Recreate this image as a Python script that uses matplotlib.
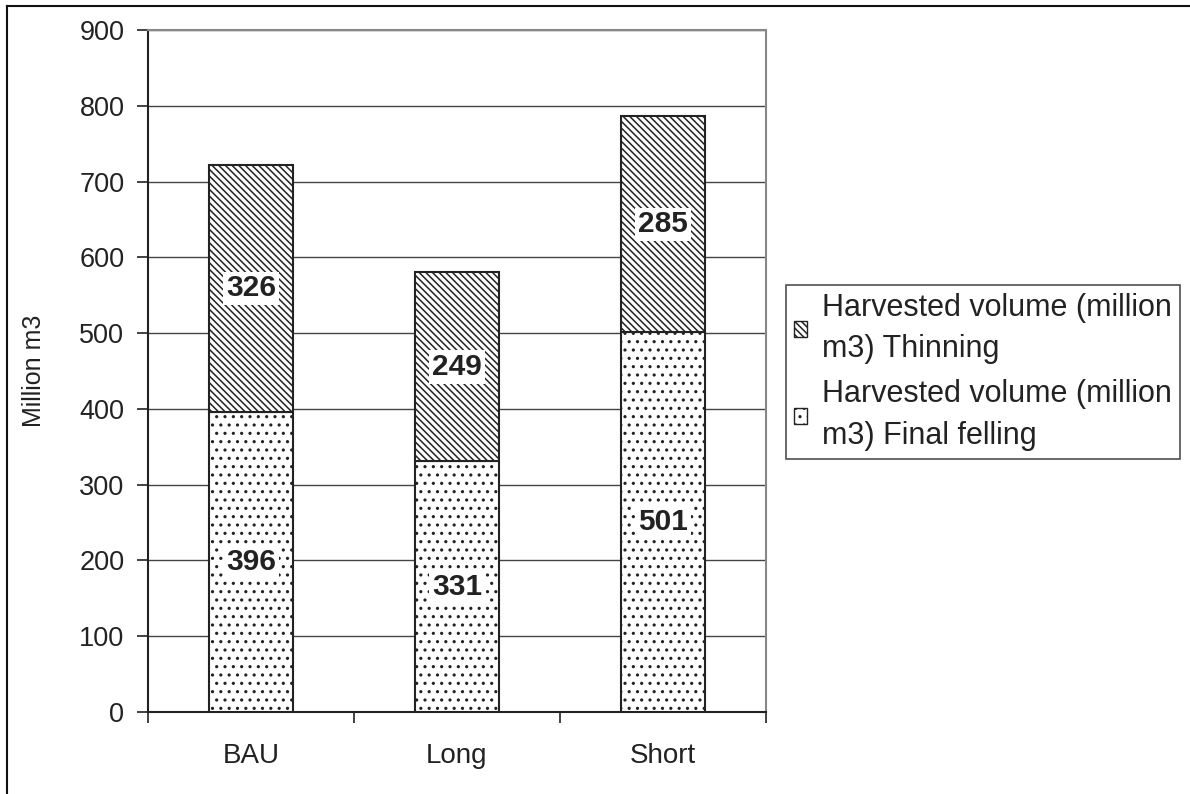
import matplotlib.pyplot as plt
from matplotlib.lines import Line2D
import numpy as np

# Cenários e volumes colhidos (milhões de m3)
cenarios = ["BAU", "Long", "Short"]
corte_final = [396, 331, 501]
desbaste = [326, 249, 285]

rotulo_desbaste = "Harvested volume (million\nm3) Thinning"
rotulo_corte = "Harvested volume (million\nm3) Final felling"

plt.rcParams["font.family"] = ["Liberation Sans", "DejaVu Sans"]
plt.rcParams["hatch.linewidth"] = 1.1
plt.rcParams["hatch.color"] = "#222222"

fig = plt.figure(figsize=(11.9, 7.94), dpi=100)
ax = fig.add_axes([148 / 1190, 1 - 712 / 794, 618 / 1190, 682 / 794])

x = np.arange(len(cenarios))
largura = 0.41

barras_corte = ax.bar(x, corte_final, largura, color="white", edgecolor="#222222",
                      linewidth=1.5, hatch="..", label=rotulo_corte, zorder=3)
barras_desbaste = ax.bar(x, desbaste, largura, bottom=corte_final, color="white",
                         edgecolor="#222222", linewidth=1.5, hatch="\\\\\\\\\\",
                         label=rotulo_desbaste, zorder=3)

# Valores no meio de cada segmento, com fundo branco
caixa = dict(facecolor="white", edgecolor="none", pad=2)
for i in range(len(cenarios)):
    ax.text(x[i], corte_final[i] / 2, str(corte_final[i]), ha="center", va="center",
            fontsize=21.5, fontweight="bold", color="#222222", bbox=caixa, zorder=4)
    ax.text(x[i], corte_final[i] + desbaste[i] / 2, str(desbaste[i]), ha="center",
            va="center", fontsize=21.5, fontweight="bold", color="#222222",
            bbox=caixa, zorder=4)

ax.set_xlim(-0.5, len(cenarios) - 0.5)
ax.set_ylim(0, 900)
ax.set_yticks(range(0, 901, 100))
ax.grid(axis="y", color="#444444", linewidth=1.0, zorder=0)

# Ticks do eixo x nas divisões entre categorias
ax.set_xticks(x)
ax.set_xticklabels(cenarios)
ax.set_xticks(np.arange(-0.5, len(cenarios)), minor=True)
ax.tick_params(axis="x", which="major", length=0, pad=22, labelsize=20, colors="#222222")
ax.tick_params(axis="x", which="minor", length=8, width=1.2, direction="out", color="#222222")
ax.tick_params(axis="y", length=8, width=1.2, pad=9, labelsize=19.5, colors="#222222")

for lado in ["left", "bottom"]:
    ax.spines[lado].set_color("#222222")
    ax.spines[lado].set_linewidth(1.5)
for lado in ["top", "right"]:
    ax.spines[lado].set_color("#888888")
    ax.spines[lado].set_linewidth(1.5)

ax.set_ylabel("Million m3", fontsize=18, color="#222222", labelpad=24)

leg = ax.legend(handles=[barras_desbaste, barras_corte], loc="upper left",
                bbox_to_anchor=(786 / 1190, 1 - 285 / 794),
                bbox_transform=fig.transFigure, fontsize=22,
                frameon=True, fancybox=False, borderaxespad=0, handlelength=0.43,
                handleheight=0.43, handletextpad=0.5, labelspacing=0.5, borderpad=0.25)
leg.get_frame().set_edgecolor("#222222")
leg.get_frame().set_linewidth(1.2)
for texto in leg.get_texts():
    texto.set_linespacing(1.5)
    texto.set_color("#222222")
for patch in leg.get_patches():
    patch.set_linewidth(1.0)

# Moldura do gráfico (só topo e esquerda aparecem)
fig.add_artist(Line2D([7 / 1190, 7 / 1190], [0, 1 - 6 / 794], color="#111111",
                      linewidth=1.5, transform=fig.transFigure))
fig.add_artist(Line2D([7 / 1190, 1], [1 - 6 / 794, 1 - 6 / 794], color="#111111",
                      linewidth=1.5, transform=fig.transFigure))

fig.savefig("out.png", dpi=100)
